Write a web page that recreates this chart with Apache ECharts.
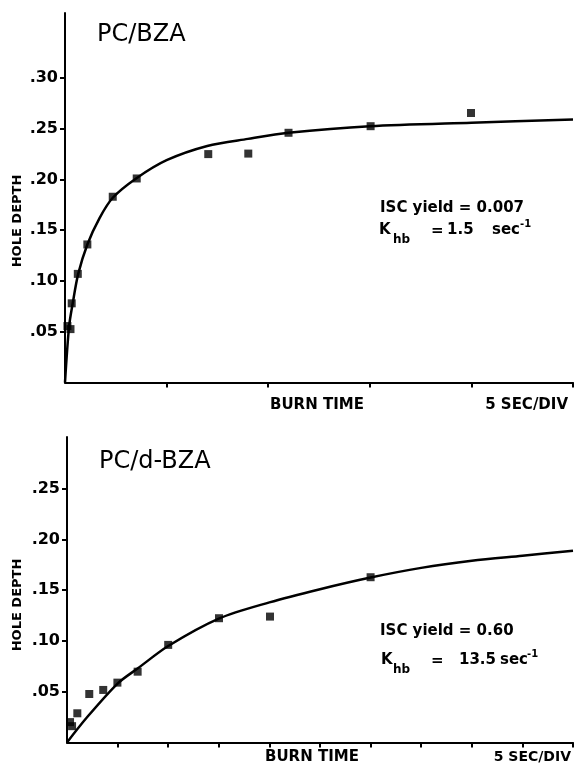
<!DOCTYPE html>
<html>
<head>
<meta charset="utf-8">
<script src="https://cdn.jsdelivr.net/npm/echarts@6/dist/echarts.min.js"></script>
<style>
html,body{margin:0;padding:0;background:#fff;}
#c{width:574px;height:767px;}
</style>
</head>
<body>
<div id="c"></div>
<script>
// ---- data (burn time in seconds, hole depth) ----
var topTitle = 'PC/BZA';
var botTitle = 'PC/d-BZA';
var topPointsT = [0.12, 0.27, 0.33, 0.63, 1.1, 2.35, 3.53, 7.05, 9.02, 11.0, 15.04, 19.98];
var topPointsV = [0.0556, 0.0526, 0.078, 0.107, 0.136, 0.183, 0.201, 0.225, 0.2255, 0.246, 0.2525, 0.2655];
var topCurveT = [0, 0.2, 0.38, 0.65, 1.1, 1.7, 2.35, 3.5, 5, 7, 9, 11, 15, 20, 25];
var topCurveV = [0, 0.055, 0.078, 0.107, 0.136, 0.162, 0.182, 0.201, 0.219, 0.233, 0.240, 0.246, 0.2525, 0.256, 0.259];
var botPointsT = [0.15, 0.25, 0.51, 1.1, 1.79, 2.49, 3.49, 5.0, 7.51, 10.03, 15.0];
var botPointsV = [0.020, 0.016, 0.0287, 0.0477, 0.0517, 0.0589, 0.0697, 0.0961, 0.1224, 0.124, 0.1628];
var botCurveT = [0, 1, 2.5, 3.5, 5, 7.5, 10, 12.5, 15, 17.5, 20, 22.5, 25];
var botCurveV = [0, 0.025, 0.058, 0.073, 0.095, 0.122, 0.138, 0.151, 0.1625, 0.172, 0.179, 0.184, 0.189];
var topYTicks = [0.05, 0.10, 0.15, 0.20, 0.25, 0.30];
var botYTicks = [0.05, 0.10, 0.15, 0.20, 0.25];
var topXTicks = [5, 10, 15, 20, 25];
var botXTicks = [2.5, 5, 7.5, 10, 12.5, 15, 17.5, 20, 22.5, 25];

function zip(a, b) { return a.map(function (v, i) { return [v, b[i]]; }); }
var F = 'DejaVu Sans';
function yLab(v) { return v.toFixed(2).replace(/^0/, ''); }

function xAx(idx, ticks) {
  return {
    type: 'value', gridIndex: idx, min: 0, max: 25,
    axisLine: { show: true, onZero: false, lineStyle: { color: '#000', width: 2 } },
    axisTick: { show: true, length: 5, lineStyle: { color: '#000', width: 2 }, customValues: ticks },
    axisLabel: { show: false },
    splitLine: { show: false }
  };
}
function yAx(idx, max, ticks) {
  return {
    type: 'value', gridIndex: idx, min: 0, max: max,
    axisLine: { show: true, lineStyle: { color: '#000', width: 2 } },
    axisTick: { show: true, length: 5, lineStyle: { color: '#000', width: 2 }, customValues: ticks },
    axisLabel: { show: true, customValues: ticks, formatter: yLab, color: '#000', fontFamily: F, fontSize: 16, fontWeight: 'bold', margin: 7 },
    splitLine: { show: false }
  };
}
function txt(x, y, s, size, weight, extra) {
  var o = { type: 'text', x: x, y: y, style: { text: s, fill: '#000', font: (weight || 'normal') + ' ' + size + 'px "' + F + '"', textVerticalAlign: 'middle', textAlign: 'left' } };
  if (extra) { for (var k in extra) { if (k === 'align') o.style.textAlign = extra[k]; else o[k] = extra[k]; } }
  return o;
}

var chart = echarts.init(document.getElementById('c'), null, { renderer: 'canvas' });
chart.setOption({
  animation: false,
  backgroundColor: '#fff',
  grid: [
    { left: 65, right: 1, top: 13, height: 369.5 },
    { left: 67, right: 1, top: 437, height: 305.4 }
  ],
  xAxis: [xAx(0, topXTicks), xAx(1, botXTicks)],
  yAxis: [yAx(0, 0.364, topYTicks), yAx(1, 0.301, botYTicks)],
  series: [
    { type: 'line', xAxisIndex: 0, yAxisIndex: 0, data: zip(topCurveT, topCurveV), smooth: 0.3, showSymbol: false, lineStyle: { color: '#000', width: 2.5 } },
    { type: 'scatter', xAxisIndex: 0, yAxisIndex: 0, data: zip(topPointsT, topPointsV), symbol: 'rect', symbolSize: 8, itemStyle: { color: '#000' } },
    { type: 'line', xAxisIndex: 1, yAxisIndex: 1, data: zip(botCurveT, botCurveV), smooth: 0.3, showSymbol: false, lineStyle: { color: '#000', width: 2.5 } },
    { type: 'scatter', xAxisIndex: 1, yAxisIndex: 1, data: zip(botPointsT, botPointsV), symbol: 'rect', symbolSize: 8, itemStyle: { color: '#000' } }
  ],
  graphic: [
    txt(97, 35, topTitle, 24, 'normal'),
    txt(99, 462, botTitle, 24, 'normal'),
    txt(18, 221, 'HOLE DEPTH', 13, 'bold', { rotation: Math.PI / 2, align: 'center' }),
    txt(18, 605, 'HOLE DEPTH', 13, 'bold', { rotation: Math.PI / 2, align: 'center' }),
    txt(270, 405, 'BURN TIME', 15, 'bold'),
    txt(568, 405, '5 SEC/DIV', 15, 'bold', { align: 'right' }),
    txt(265, 757, 'BURN TIME', 15, 'bold'),
    txt(571, 757, '5 SEC/DIV', 14, 'bold', { align: 'right' }),
    // top annotation
    txt(380, 208, 'ISC yield = 0.007', 15, 'bold'),
    txt(379, 230, 'K', 15, 'bold'),
    txt(393, 240, 'hb', 12, 'bold'),
    txt(431, 231, '=', 15, 'bold'),
    txt(447, 230, '1.5', 15, 'bold'),
    txt(492, 230, 'sec', 15, 'bold'),
    txt(520, 224, '-1', 10, 'bold'),
    // bottom annotation
    txt(380, 631, 'ISC yield = 0.60', 15, 'bold'),
    txt(381, 660, 'K', 15, 'bold'),
    txt(393, 670, 'hb', 12, 'bold'),
    txt(431, 661, '=', 15, 'bold'),
    txt(459, 660, '13.5', 15, 'bold'),
    txt(500, 660, 'sec', 15, 'bold'),
    txt(527, 654, '-1', 10, 'bold')
  ]
});
</script>
</body>
</html>
